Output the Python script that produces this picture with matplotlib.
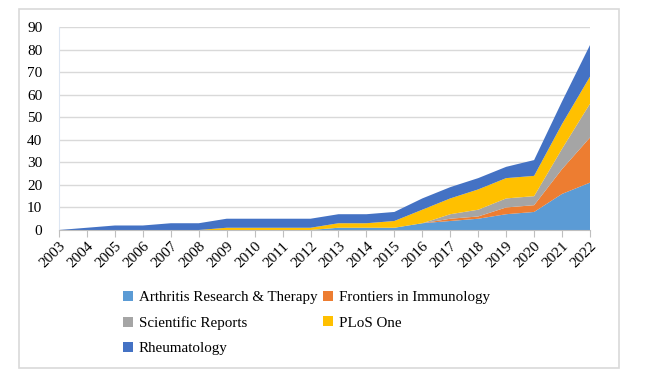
import numpy as np
import matplotlib.pyplot as plt
from matplotlib.patches import Rectangle

plt.rcParams['font.family'] = ['Liberation Serif', 'DejaVu Serif']

years = list(range(2003, 2023))
arthritis = [0, 0, 0, 0, 0, 0, 0, 0, 0, 0, 1, 1, 1, 3, 4, 5, 7, 8, 16, 21]
frontiers = [0, 0, 0, 0, 0, 0, 0, 0, 0, 0, 0, 0, 0, 0, 1, 1, 3, 3, 11, 20]
scientific = [0, 0, 0, 0, 0, 0, 0, 0, 0, 0, 0, 0, 0, 0, 2, 3, 4, 4, 9, 15]
plos = [0, 0, 0, 0, 0, 0, 1, 1, 1, 1, 2, 2, 3, 6, 7, 9, 9, 9, 11, 12]
rheum = [0, 1, 2, 2, 3, 3, 4, 4, 4, 4, 4, 4, 4, 5, 5, 5, 5, 7, 10, 14]

names = ['Arthritis Research & Therapy', 'Frontiers in Immunology',
         'Scientific Reports', 'PLoS One', 'Rheumatology']
colors = ['#5B9BD5', '#ED7D31', '#A5A5A5', '#FFC000', '#4472C4']

fig = plt.figure(figsize=(6.45, 3.76), dpi=100)
ax = fig.add_axes([59/645, 1-230/376, 531/645, 203/376])

# light frame around the whole chart
fig.patches.append(Rectangle((19/645, 1-368/376), 600/645, 359/376,
                             transform=fig.transFigure, fill=False,
                             edgecolor='#d9d9d9', linewidth=1.2))

x = np.arange(len(years))
polys = ax.stackplot(x, arthritis, frontiers, scientific, plos, rheum,
                     colors=colors, labels=names, linewidth=0)

ax.set_xlim(0, len(years) - 1)
ax.set_ylim(0, 90)
ax.set_yticks(range(0, 91, 10))
ax.yaxis.grid(True, color='#d9d9d9', linewidth=1)
ax.set_axisbelow(True)
ax.tick_params(axis='y', length=0, labelsize=11, pad=12)
ax.set_xticks(x)
ax.set_xticklabels([str(y) for y in years], rotation=45, ha='right',
                   rotation_mode='anchor', fontsize=11)
ax.tick_params(axis='x', length=5, color='#bfbfbf', pad=2)
for s in ['top', 'right']:
    ax.spines[s].set_visible(False)
ax.spines['left'].set_color('#dde6f2')
ax.spines['bottom'].set_color('#bfbfbf')

order = [0, 2, 4, 1, 3]
handles = [polys[i] for i in order]
labels = [names[i] for i in order]
fig.legend(handles, labels, ncol=2, loc='upper left',
           bbox_to_anchor=(117/645, 1-285/376), frameon=False, fontsize=10.8,
           handlelength=0.65, handleheight=0.65, handletextpad=0.4,
           labelspacing=0.8, columnspacing=0.4, borderaxespad=0)

fig.savefig('out.png', dpi=100)
